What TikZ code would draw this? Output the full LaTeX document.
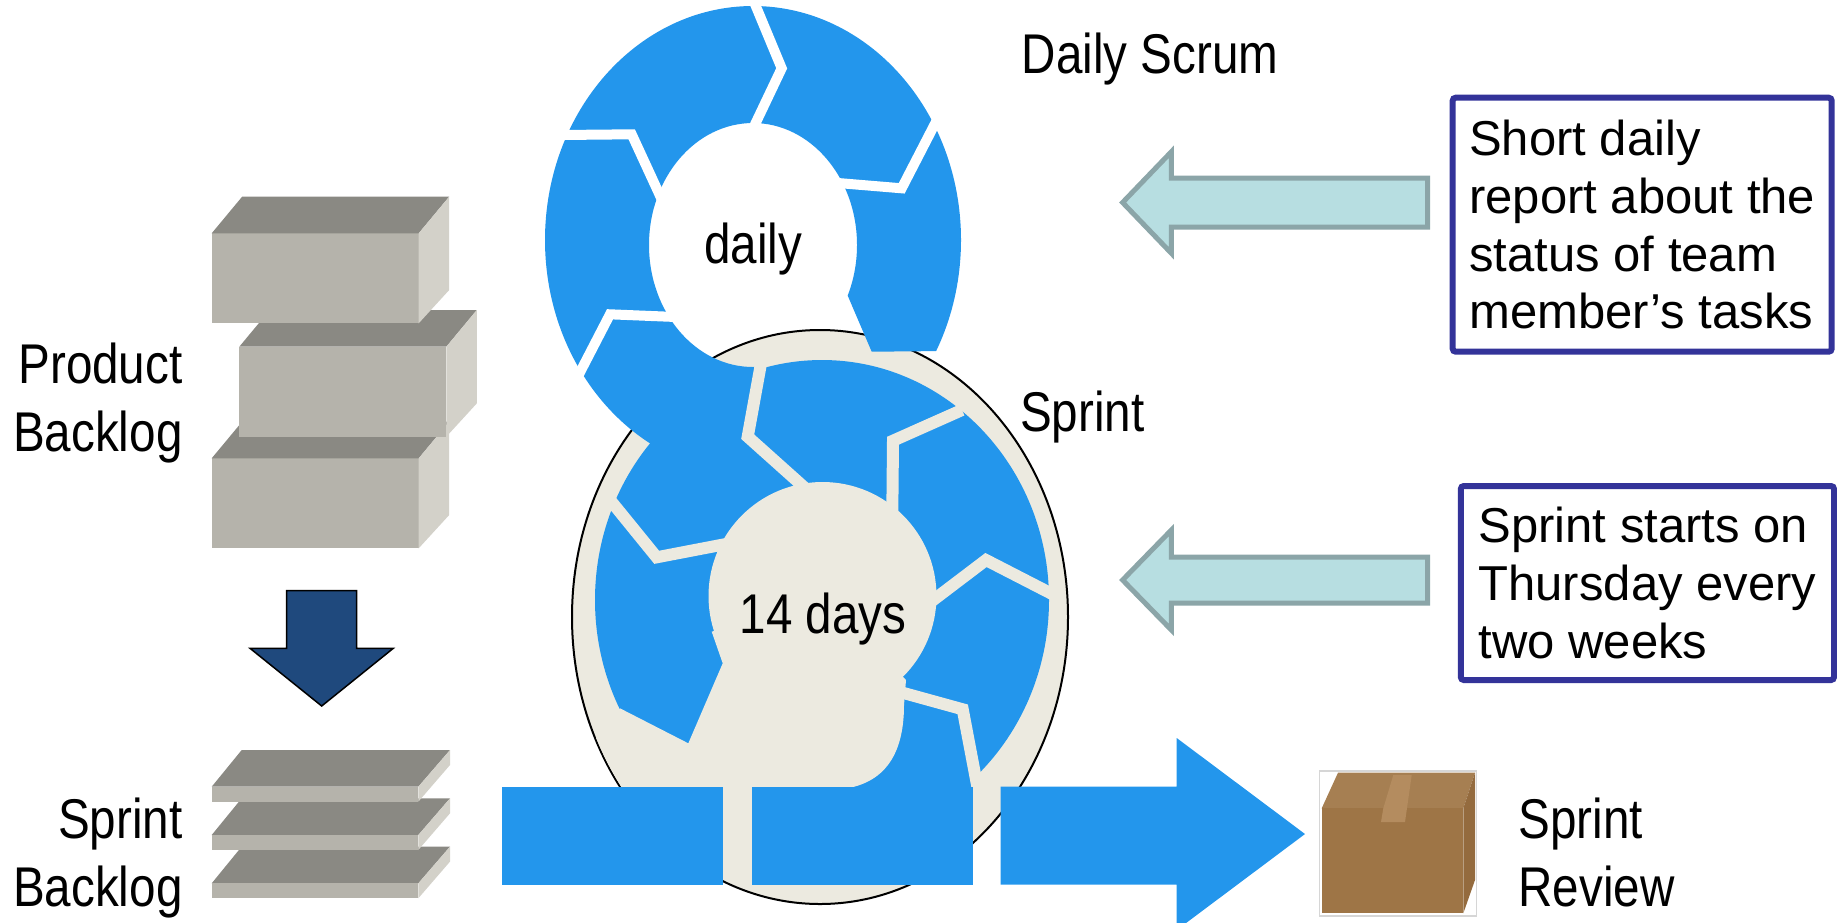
\documentclass[tikz,border=0pt]{standalone}
\usepackage{fontspec}
\setmainfont{Liberation Sans}
\newfontfamily\narrowsans[FakeStretch=0.85]{Liberation Sans}
\usepackage{tikz}

\definecolor{cycleblue}{RGB}{35,150,236}
\definecolor{sprintbg}{RGB}{236,234,224}
\definecolor{blockfront}{RGB}{181,179,171}
\definecolor{blocktop}{RGB}{138,137,131}
\definecolor{blockside}{RGB}{211,209,201}
\definecolor{pushblue}{RGB}{31,73,125}
\definecolor{hintfill}{RGB}{183,222,225}
\definecolor{hintline}{RGB}{139,165,168}
\definecolor{noteline}{RGB}{51,51,153}
\definecolor{parcelframe}{RGB}{214,214,214}
\definecolor{parcelfront}{RGB}{158,117,70}
\definecolor{parceltop}{RGB}{166,127,82}
\definecolor{parcelside}{RGB}{148,107,62}
\definecolor{parceltape}{RGB}{180,140,95}

\tikzset{
  cyclelabel/.style={inner sep=0pt, font=\narrowsans\fontsize{56}{68.4}\selectfont},
  notebox/.style={draw=noteline, line width=6, rounded corners=3, inner sep=0pt, align=left, font=\fontsize{49}{57.7}\selectfont},
  hint/.style={draw=hintline, fill=hintfill, line width=5},
  sprintgap/.style={draw=sprintbg, line width=12},
  dailygap/.style={draw=white, line width=10}
}

\begin{document}
\begin{tikzpicture}[x=1pt, y=-1pt]
\useasboundingbox (0,0) rectangle (1837,922);

\draw[fill=sprintbg, line width=2] (820,617) ellipse [x radius=248pt, y radius=287pt];
\begin{scope}
\clip (0,0) rectangle (1837,786.7);
\fill[cycleblue] (822,600) ellipse [x radius=227pt, y radius=240pt];
\end{scope}
\begin{scope}
\clip (500,-5) -- (1000,-5) -- (1000,350.5) -- (871.7,351.7) -- (846.7,293.3) -- (760,320) -- (758,480) -- (500,480) -- cycle;
\fill[cycleblue, even odd rule] (753,240) ellipse [x radius=208pt, y radius=234pt] (753,245) ellipse [x radius=104pt, y radius=122pt];
\end{scope}
\fill[cycleblue] (895,688) -- (962,703) -- (977,787) -- (820,787) -- cycle;
\fill[sprintbg] (822.5,596) circle [radius=114pt];
\begin{scope}
\clip (820,617) ellipse [x radius=247pt, y radius=286pt];
\fill[sprintbg] (711.7,631.7) -- (722.7,663.3) -- (688.3,743.3) -- (620,708.3) -- (590,745) -- (590,790) -- (826.7,790) .. controls (880,790) and (904,760) .. (904,705) -- (906,680) -- (822.5,596) -- cycle;
\end{scope}

\draw[sprintgap] (762,358) -- (747.7,436.7) -- (805,488);
\draw[sprintgap] (962,410) -- (893,440.7) -- (892.3,514);
\draw[sprintgap] (932,601) -- (986,560) -- (1056,596);
\draw[sprintgap] (900,692) -- (962.7,709.3) -- (978,790);
\draw[sprintgap] (608.5,498) -- (656.7,557.3) -- (726,544);
\draw[dailygap] (753.3,0) -- (781.7,68.3) -- (753.3,128);
\draw[dailygap] (940,114) -- (901.7,188.3) -- (838,183);
\draw[dailygap] (560,135) -- (631.7,134.3) -- (662,200);
\draw[dailygap] (575,382) -- (610,314.3) -- (676,317);

\fill[cycleblue] (502,786.7) rectangle (723.3,884.5);
\fill[cycleblue] (751.7,786.7) rectangle (973.3,884.5);
\fill[cycleblue] (1000.7,786.7) -- (1176.7,786.7) -- (1176.7,738) -- (1305,834) -- (1176.7,930) -- (1176.7,884.5) -- (1000.7,884.5) -- cycle;

\node[cyclelabel, anchor=base] (daily) at (753.3,263.3) {daily};
\node[cyclelabel, anchor=base] (days) at (823,633.3) {14 days};
\node[cyclelabel, anchor=base west] (scrum) at (1021.7,73.3) {Daily Scrum};
\node[cyclelabel, anchor=base west] (sprint) at (1020,431.7) {Sprint};

\foreach \bx/\by in {211.7/458.3, 239.3/346.7, 211.7/233.3} {
  \fill[blockfront] (\bx,\by) rectangle ++(207,90);
  \fill[blocktop] (\bx,\by) -- ++(30.5,-36.7) -- ++(207,0) -- ++(-30.5,36.7) -- cycle;
  \fill[blockside] (\bx+207,\by) -- ++(30.5,-36.7) -- ++(0,93.4) -- ++(-30.5,33.3) -- cycle;
}
\draw[fill=pushblue, line width=1.5] (286.7,590.7) -- (356.7,590.7) -- (356.7,648.3) -- (393.3,648.3) -- (321.7,706) -- (250,648.3) -- (286.7,648.3) -- cycle;
\foreach \py in {883.3, 835, 786.7} {
  \fill[blocktop] (211.7,\py) -- ++(30,-36.7) -- ++(208.3,0) -- ++(-31.7,36.7) -- cycle;
  \fill[blockfront] (211.7,\py) rectangle ++(206.6,15);
  \fill[blockside] (418.3,\py) -- ++(31.7,-36.7) -- ++(0,15) -- ++(-31.7,36.7) -- cycle;
}
\node[cyclelabel, anchor=north east, align=right] (product) at (182.7,342.5) {Product\\Backlog};
\node[cyclelabel, anchor=north east, align=right] (backlog) at (182.7,797.3) {Sprint\\Backlog};

\draw[hint] (1427.5,178) -- (1171.4,178) -- (1171.4,151.7) -- (1122.6,202.5) -- (1171.4,253.3) -- (1171.4,227) -- (1427.5,227) -- cycle;
\draw[hint] (1427.5,557) -- (1171.4,557) -- (1171.4,530) -- (1122.6,580) -- (1171.4,630) -- (1171.4,603) -- (1427.5,603) -- cycle;
\node[notebox, anchor=north west, minimum width=379, minimum height=254] (report) at (1449.7,94.7) {Short daily\\report about the\\status of team\\member’s tasks};
\node[notebox, anchor=north west, minimum width=373.2, minimum height=194] (starts) at (1457.8,483) {Sprint starts on\\Thursday every\\two weeks};

\draw[parcelframe, line width=1.5] (1319.3,771) rectangle (1476.7,916);
\fill[parceltop] (1321.7,808.3) -- (1338,772.7) -- (1475,772.7) -- (1463.3,808.3) -- cycle;
\fill[parcelfront] (1321.7,808.3) rectangle (1463.3,913.3);
\fill[parcelside] (1463.3,808.3) -- (1475,772.7) -- (1475,880) -- (1463.3,913.3) -- cycle;
\fill[parceltape] (1383.3,808.3) -- (1393.3,775) -- (1411.7,775) -- (1405,822) -- (1381,822) -- cycle;
\node[cyclelabel, anchor=north west, align=left] (review) at (1518.3,797.3) {Sprint\\Review};
\end{tikzpicture}
\end{document}
